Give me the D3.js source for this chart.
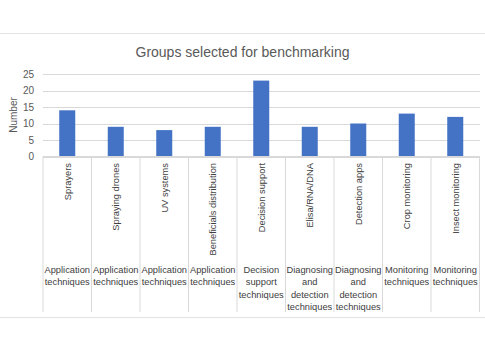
<!DOCTYPE html>
<html><head><meta charset="utf-8">
<script src="https://cdn.jsdelivr.net/npm/d3@7"></script>
<style>body{margin:0;background:#fff}svg{display:block}</style>
</head><body><svg id="c" width="485" height="360"></svg>
<script>
const subcategories = ["Sprayers","Spraying drones","UV systems","Beneficials distribution","Decision support","Elisa/RNA/DNA","Detection apps","Crop monitoring","Insect monitoring"];
const groups = [["Application","techniques"],["Application","techniques"],["Application","techniques"],["Application","techniques"],["Decision","support","techniques"],["Diagnosing","and","detection","techniques"],["Diagnosing","and","detection","techniques"],["Monitoring","techniques"],["Monitoring","techniques"]];
const values = [14,9,8,9,23,9,10,13,12];
const yTicks = [0,5,10,15,20,25];

(function(){
const svg = d3.select("#c");
const font = "'Liberation Sans', Arial, sans-serif";
const mLeft = 43, mRight = 479.5, mTop = 74, mBottom = 156.5, tableBottom = 312;
const txt = "#595959", dark = "#404040", grid = "#d9d9d9";

// outer borders
svg.append("line").attr("x1",0).attr("x2",485).attr("y1",33.5).attr("y2",33.5).attr("stroke","#e3e3e3");
svg.append("line").attr("x1",0).attr("x2",485).attr("y1",317.5).attr("y2",317.5).attr("stroke","#e3e3e3");

const x = d3.scaleBand().domain(subcategories).range([mLeft,mRight]).paddingInner(0.67).paddingOuter(0.335);
const xb = d3.scaleBand().domain(subcategories).range([mLeft,mRight]);
const y = d3.scaleLinear().domain([0,25]).range([mBottom,mTop]);

// gridlines
const yAxis = d3.axisLeft(y).tickValues(yTicks).tickSize(-(mRight-mLeft)).tickPadding(9);
const gy = svg.append("g").attr("transform",`translate(${mLeft},0)`).call(yAxis);
gy.select(".domain").remove();
gy.selectAll(".tick line").attr("stroke",grid).attr("shape-rendering","crispEdges");
gy.selectAll(".tick text").attr("fill",txt).attr("font-family",font).attr("font-size","10px");

// bars
svg.selectAll("rect.bar").data(values).enter().append("rect")
  .attr("x",(d,i)=>x(subcategories[i])).attr("width",x.bandwidth())
  .attr("y",d=>y(d)).attr("height",d=>y(0)-y(d)).attr("fill","#4472C4");

// table lines
svg.append("line").attr("x1",mLeft).attr("x2",mRight).attr("y1",mBottom).attr("y2",mBottom).attr("stroke",grid).attr("shape-rendering","crispEdges");
const seps = subcategories.map(s=>xb(s)).concat([mRight]);
svg.selectAll("line.sep").data(seps).enter().append("line")
  .attr("x1",d=>d).attr("x2",d=>d).attr("y1",mBottom).attr("y2",tableBottom)
  .attr("stroke",grid);

// rotated sub labels
svg.selectAll("text.sub").data(subcategories).enter().append("text")
  .attr("transform",d=>`translate(${xb(d)+xb.bandwidth()/2+3.5},163) rotate(-90)`)
  .attr("text-anchor","end").attr("fill",dark).attr("font-family",font).attr("font-size","9.3px")
  .text(d=>d);

// group labels
groups.forEach((lines,i)=>{
  const cx = xb(subcategories[i])+xb.bandwidth()/2;
  const t = svg.append("text").attr("text-anchor","middle").attr("fill",dark)
    .attr("font-family",font).attr("font-size","9.3px");
  lines.forEach((l,j)=>t.append("tspan").attr("x",cx).attr("y",273+j*12.3).text(l));
});

// title
svg.append("text").attr("x",242.5).attr("y",57).attr("text-anchor","middle").attr("fill",txt)
  .attr("font-family",font).attr("font-size","14px").text("Groups selected for benchmarking");

// y axis label
svg.append("text").attr("transform","translate(17,115) rotate(-90)").attr("text-anchor","middle")
  .attr("fill",txt).attr("font-family",font).attr("font-size","10px").text("Number");
})();
</script></body></html>
